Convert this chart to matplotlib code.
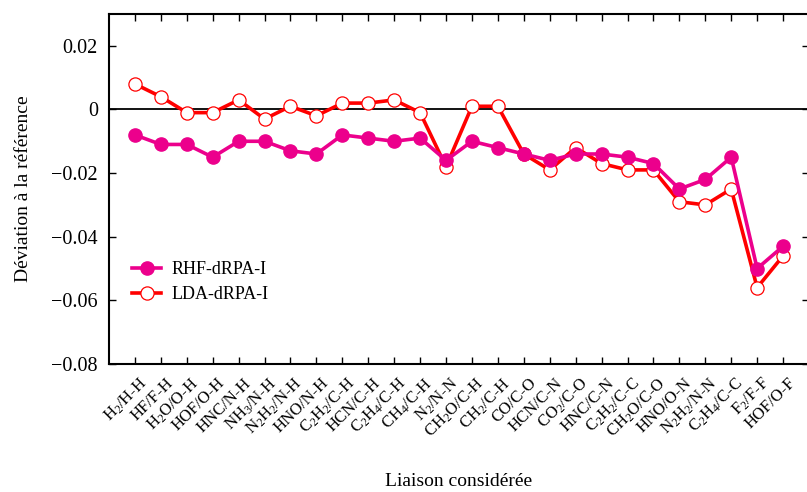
import matplotlib
matplotlib.use("Agg")
import matplotlib.pyplot as plt
from matplotlib.ticker import FuncFormatter, FixedLocator
import matplotlib.transforms as mtransforms

plt.rcParams["font.family"] = ["Liberation Serif", "DejaVu Serif"]
plt.rcParams["mathtext.fontset"] = "custom"
plt.rcParams["mathtext.rm"] = "Liberation Serif"
plt.rcParams["mathtext.it"] = "Liberation Serif:italic"
plt.rcParams["mathtext.default"] = "regular"

# ---------- data ----------
bonds = [
    "H$_2$/H-H", "HF/F-H", "H$_2$O/O-H", "HOF/O-H", "HNC/N-H", "NH$_3$/N-H",
    "N$_2$H$_2$/N-H", "HNO/N-H", "C$_2$H$_2$/C-H", "HCN/C-H", "C$_2$H$_4$/C-H",
    "CH$_4$/C-H", "N$_2$/N-N", "CH$_2$O/C-H", "CH$_2$/C-H", "CO/C-O",
    "HCN/C-N", "CO$_2$/C-O", "HNC/C-N", "C$_2$H$_2$/C-C", "CH$_2$O/C-O",
    "HNO/O-N", "N$_2$H$_2$/N-N", "C$_2$H$_4$/C-C", "F$_2$/F-F", "HOF/O-F",
]
rhf_drpa = [
    -0.008, -0.011, -0.011, -0.015, -0.010, -0.010, -0.013, -0.014, -0.008,
    -0.009, -0.010, -0.009, -0.016, -0.010, -0.012, -0.014, -0.016, -0.014,
    -0.014, -0.015, -0.017, -0.025, -0.022, -0.015, -0.050, -0.043,
]
lda_drpa = [
    0.008, 0.004, -0.001, -0.001, 0.003, -0.003, 0.001, -0.002, 0.002,
    0.002, 0.003, -0.001, -0.018, 0.001, 0.001, -0.014, -0.019, -0.012,
    -0.017, -0.019, -0.019, -0.029, -0.030, -0.025, -0.056, -0.046,
]
y_ticks = [-0.08, -0.06, -0.04, -0.02, 0, 0.02]

x = list(range(1, len(bonds) + 1))

fig = plt.figure(figsize=(8.07, 4.92), dpi=100)
ax = fig.add_axes([109 / 807, 1 - 364 / 492, 700 / 807, 350 / 492])

ax.axhline(0, color="black", lw=1.3, zorder=1)

ax.plot(x, rhf_drpa, color="#EC008C", lw=2.6, marker="o", ms=9.5,
        mfc="#EC008C", mec="#EC008C", label="RHF-dRPA-I", zorder=3)
ax.plot(x, lda_drpa, color="#FF0000", lw=2.6, marker="o", ms=9.5,
        mfc="white", mec="#FF0000", mew=0.9, label="LDA-dRPA-I", zorder=2)

ax.set_xlim(0, len(bonds) + 1)
ax.set_ylim(-0.08, 0.03)

# x tick labels: rotated, drawn as text so they can be shifted like gnuplot's
ax.xaxis.set_major_locator(FixedLocator(x))
ax.set_xticklabels([""] * len(bonds))
shift = mtransforms.ScaledTranslation(10 / 100, -17 / 100, fig.dpi_scale_trans)
trans = ax.get_xaxis_transform() + shift
for xi, name in zip(x, bonds):
    ax.text(xi, 0, name, transform=trans, rotation=45, ha="right",
            va="center", rotation_mode="anchor", fontsize=12, clip_on=False)

ax.yaxis.set_major_locator(FixedLocator(y_ticks))


def fmt(v, pos):
    if abs(v) < 1e-12:
        return "0"
    return f"{v:.2f}".replace("-", "\u2212")


ax.yaxis.set_major_formatter(FuncFormatter(fmt))
ax.tick_params(axis="y", labelsize=14.5, pad=8)
ax.tick_params(direction="in", length=5, width=1, top=True, right=True)

for s in ax.spines.values():
    s.set_linewidth(1.5)

ax.set_ylabel("Déviation à la référence", fontsize=14, labelpad=14)
fig.text(459 / 807, 1 - 482 / 492, "Liaison considérée", fontsize=14,
         ha="center", va="center")

ax.legend(loc="upper left", bbox_to_anchor=(0.01, 0.34), frameon=False,
          fontsize=13, handlelength=1.6, handletextpad=0.6, labelspacing=0.45)

fig.savefig("out.png", dpi=100)
